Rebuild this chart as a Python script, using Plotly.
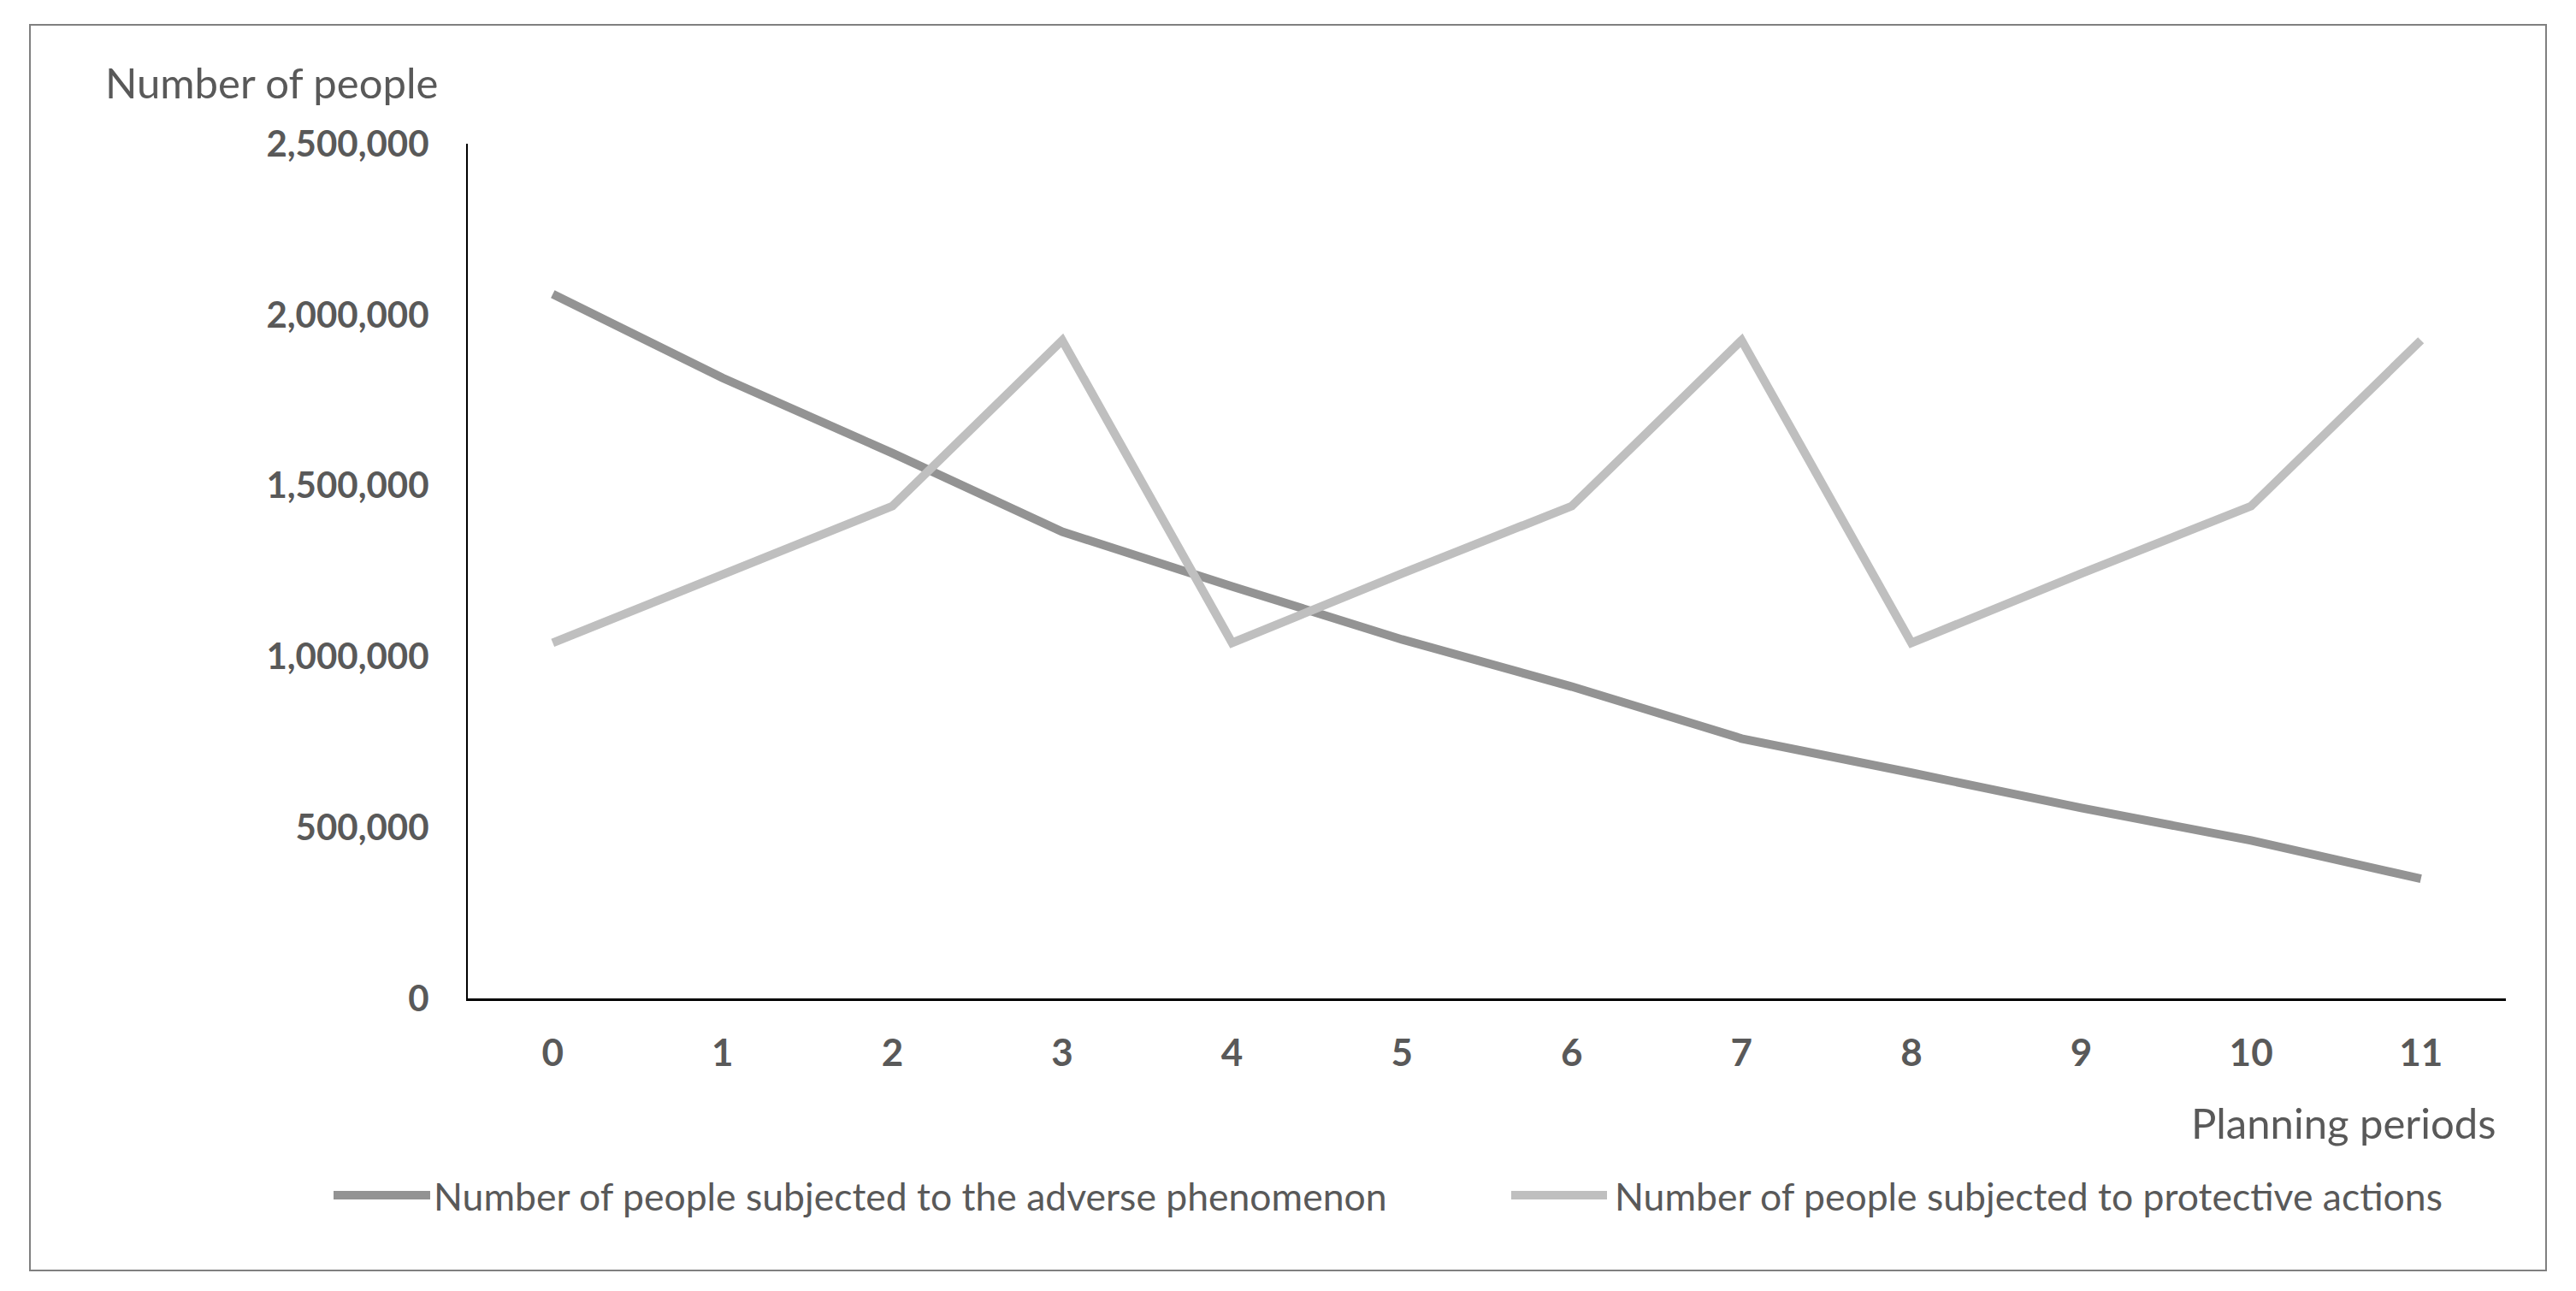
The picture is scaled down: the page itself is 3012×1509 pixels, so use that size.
import plotly.graph_objects as go

periods = [str(i) for i in range(12)]
adverse = [2060000, 1815000, 1595000, 1365000, 1205000, 1050000, 912000, 760000, 660000, 557000, 462000, 350000]
protective = [1040000, 1243000, 1440000, 1925000, 1040000, 1243000, 1440000, 1925000, 1040000, 1243000, 1440000, 1925000]
series_names = ["Number of people subjected to the adverse phenomenon",
                "Number of people subjected to protective actions"]
series_colors = ["#939393", "#bfbfbf"]
y_ticks = [0, 500000, 1000000, 1500000, 2000000, 2500000]
y_ticklabels = ["0", "500,000", "1,000,000", "1,500,000", "2,000,000", "2,500,000"]

FONT = "Lato"
TXT = "#595959"
OFF = 8  # browser body margin
W, H = 3012 - 2 * OFF, 1509 - 2 * OFF
# page coordinates of the plot area
L, R, T, B = 547, 2930, 168, 1167
PW, PH = R - L, B - T

def px(x):
    return (x - L) / PW

def py(y):
    return (B - y) / PH

fig = go.Figure()
for name, vals, col in zip(series_names, [adverse, protective], series_colors):
    fig.add_trace(go.Scatter(x=periods, y=vals, mode="lines", name=name,
                             line=dict(color=col, width=10), showlegend=False))

fig.update_layout(
    width=W, height=H,
    margin=dict(l=L - OFF, r=(3012 - OFF) - R, t=T - OFF, b=(1509 - OFF) - B),
    paper_bgcolor="white", plot_bgcolor="white",
    font=dict(family=FONT, color=TXT, size=44),
)
fig.update_xaxes(type="category", range=[-0.5, 11.5], showgrid=False, zeroline=False,
                 showline=True, linecolor="black", linewidth=3, ticks="",
                 tickfont=dict(family=FONT, size=44, color=TXT, weight="bold"),
                 ticklabelstandoff=23)
fig.update_yaxes(range=[0, 2500000], showgrid=False, zeroline=False,
                 showline=True, linecolor="black", linewidth=2, ticks="",
                 tickvals=y_ticks, ticktext=y_ticklabels,
                 tickfont=dict(family=FONT, size=42, color=TXT, weight="bold"),
                 ticklabelstandoff=35)

# outer border
fig.add_shape(type="rect", xref="paper", yref="paper",
              x0=px(35), x1=px(2977), y0=py(1485), y1=py(29),
              line=dict(color="#808080", width=2), fillcolor="rgba(0,0,0,0)", layer="below")

# axis titles
fig.add_annotation(text="Number of people", xref="paper", yref="paper",
                   x=px(121), y=py(96), xanchor="left", yanchor="middle",
                   showarrow=False, font=dict(family=FONT, size=49, color=TXT))
fig.add_annotation(text="Planning periods", xref="paper", yref="paper",
                   x=px(2920), y=py(1312), xanchor="right", yanchor="middle",
                   showarrow=False, font=dict(family=FONT, size=49, color=TXT))

# legend (manual)
leg_y = py(1397)
for (x0, x1, tx), name, col in zip([(390, 503, 505), (1767, 1879, 1886)], series_names, series_colors):
    fig.add_shape(type="line", xref="paper", yref="paper", x0=px(x0), x1=px(x1),
                  y0=leg_y, y1=leg_y, line=dict(color=col, width=10))
    fig.add_annotation(text=name, xref="paper", yref="paper", x=px(tx), y=leg_y,
                       xanchor="left", yanchor="middle", showarrow=False,
                       font=dict(family=FONT, size=44.5, color=TXT))

fig.write_html("out.html")
